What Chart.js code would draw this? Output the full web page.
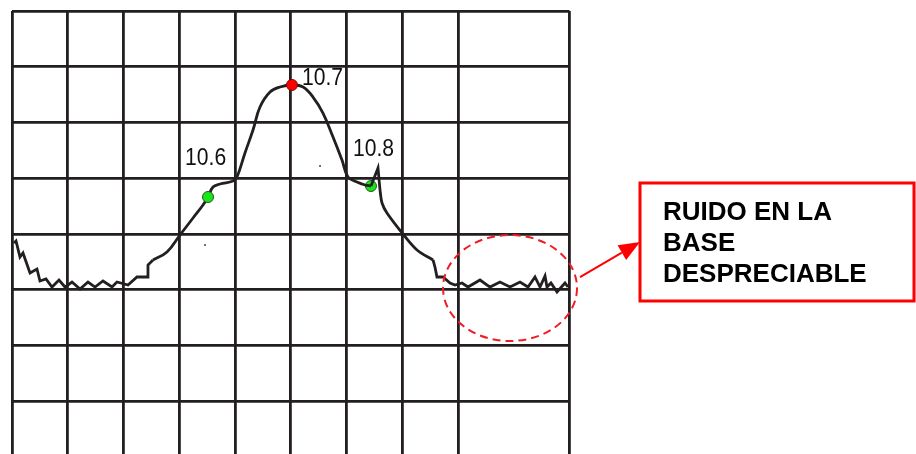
<!DOCTYPE html>
<html>
<head>
<meta charset="utf-8">
<script src="https://cdn.jsdelivr.net/npm/chart.js@4/dist/chart.umd.min.js"></script>
<style>
  html, body { margin: 0; padding: 0; background: #ffffff; overflow: hidden; }
  #wrap { width: 916px; height: 454px; }
</style>
</head>
<body>
<div id="wrap"><canvas id="chrom" width="916" height="454"></canvas></div>
<script>
// Chromatogram trace (time in grid divisions, signal in grid divisions)
const time = [
  0.036, 0.072, 0.143, 0.197, 0.323, 0.448, 0.502, 0.610, 0.717, 0.843,
  0.951, 1.076, 1.220, 1.363, 1.489, 1.632, 1.794, 1.883, 2.081, 2.242,
  2.422, 2.439, 2.529, 2.780, 3.013, 3.247, 3.426, 3.516, 3.605, 3.731,
  3.964, 4.036, 4.179, 4.323, 4.448, 4.628, 4.807, 5.022, 5.220, 5.399,
  5.578, 5.758, 5.919, 6.027, 6.188, 6.332, 6.439, 6.565, 6.601, 6.637,
  6.726, 7.013, 7.265, 7.552, 7.587, 7.623, 7.731, 7.857, 7.946, 8.072,
  8.179, 8.395, 8.574, 8.753, 8.933, 9.112, 9.256, 9.381, 9.471, 9.561,
  9.596, 9.668, 9.776, 9.919, 9.973
];
const signal = [
  3.839, 3.874, 3.587, 3.659, 3.300, 3.372, 3.157, 3.193, 3.049, 3.175,
  3.049, 3.139, 3.013, 3.139, 3.049, 3.157, 3.049, 3.139, 3.085, 3.229,
  3.229, 3.444, 3.534, 3.677, 3.982, 4.287, 4.520, 4.664, 4.843, 4.897,
  4.951, 5.022, 5.453, 5.865, 6.278, 6.547, 6.637, 6.673, 6.637, 6.457,
  6.170, 5.740, 5.327, 5.022, 4.933, 4.879, 4.861, 5.184, 4.789, 4.556,
  4.377, 4.000, 3.713, 3.534, 3.408, 3.229, 3.229, 3.121, 3.085, 3.121,
  3.049, 3.175, 3.049, 3.139, 3.049, 3.139, 3.049, 3.229, 3.049, 3.247,
  3.049, 3.121, 2.960, 3.121, 3.049
];

// Marked peaks and their retention labels
const peakTimes   = [3.516, 5.022, 6.439];
const peakHeights = [4.664, 6.673, 4.861];
const peakLabels  = ['10.6', '10.7', '10.8'];

// Two stray specks on the recorder paper
const speckTimes   = [3.462, 5.525];
const speckHeights = [3.803, 5.220];

// Grid divisions
const gridX = [0, 1, 2, 3, 4, 5, 6, 7, 8, 10];
const gridY = [1, 2, 3, 4, 5, 6, 7, 8];

// Callout
const noteLines = ['RUIDO EN LA', 'BASE', 'DESPRECIABLE'];
const noiseCentre = [8.933, 3.031];

const INK = '#231f20';

// The trace is drawn in pieces: smooth where the peak rises and falls,
// sharp where the baseline jitters.
const pts = time.map((t, i) => ({ x: t, y: signal[i] }));
const at = t => time.indexOf(t);
const pieces = [
  [0, at(2.529), 0],
  [at(2.529), at(6.439), 0.4],
  [at(6.439), at(6.601), 0],
  [at(6.601), at(7.552), 0.35],
  [at(7.552), time.length - 1, 0]
];
const traceSets = pieces.map(([a, b, tension]) => ({
  type: 'line',
  data: pts.slice(a, b + 1),
  borderColor: INK,
  borderWidth: 2.8,
  tension: tension,
  pointRadius: 0,
  fill: false,
  order: 1
}));

const markerColours = ['#19e619', '#ff0000', '#19e619'];
const markerEdges   = ['#1f5a1f', '#8a0000', '#1f5a1f'];
const markerSets = peakTimes.map((t, i) => ({
  type: 'line',
  showLine: false,
  data: [{ x: t, y: peakHeights[i] }],
  pointRadius: 5.5,
  pointBackgroundColor: markerColours[i],
  pointBorderColor: markerEdges[i],
  pointBorderWidth: 1,
  order: i === 2 ? 2 : 0
}));

const speckSet = {
  type: 'line',
  showLine: false,
  data: speckTimes.map((t, i) => ({ x: t, y: speckHeights[i] })),
  pointStyle: 'rect',
  pointRadius: 1.2,
  pointBackgroundColor: INK,
  pointBorderWidth: 0,
  order: 0
};

// Label placement relative to each marker (px): left edge, baseline
const labelOffsets = [[-23, -32], [10, 0], [-18, -30]];

const peakLabelPlugin = {
  id: 'peakLabels',
  afterDatasetsDraw(chart) {
    const { ctx, scales: { x, y } } = chart;
    ctx.save();
    ctx.fillStyle = '#111111';
    ctx.font = '24px "Liberation Sans", Arial, sans-serif';
    ctx.textBaseline = 'alphabetic';
    peakLabels.forEach((txt, i) => {
      const px = x.getPixelForValue(peakTimes[i]) + labelOffsets[i][0];
      const py = y.getPixelForValue(peakHeights[i]) + labelOffsets[i][1];
      ctx.save();
      ctx.translate(px, py);
      ctx.scale(0.88, 1);
      ctx.fillText(txt, 0, 0);
      ctx.restore();
    });
    ctx.restore();
  }
};

const calloutPlugin = {
  id: 'callout',
  afterDraw(chart) {
    const { ctx, scales: { x, y } } = chart;
    const cx = x.getPixelForValue(noiseCentre[0]);
    const cy = y.getPixelForValue(noiseCentre[1]);
    ctx.save();
    // dashed ring around the baseline noise
    ctx.strokeStyle = '#ee1c24';
    ctx.lineWidth = 2;
    ctx.setLineDash([8, 5]);
    ctx.beginPath();
    ctx.ellipse(cx, cy, 67, 53, 0, 0, Math.PI * 2);
    ctx.stroke();
    ctx.setLineDash([]);

    // box
    const bx = 640, by = 183, bw = 274, bh = 118;
    ctx.strokeStyle = '#ff0000';
    ctx.lineWidth = 3;
    ctx.strokeRect(bx, by, bw, bh);

    // arrow from the ring to the box
    const sx = cx + 70, sy = cy - 11;
    const tx = bx, ty = 242;
    const dx = tx - sx, dy = ty - sy, len = Math.hypot(dx, dy);
    const ux = dx / len, uy = dy / len;
    const head = 21, half = 8.5;
    const hx = tx - ux * head, hy = ty - uy * head;
    ctx.strokeStyle = '#ff0000';
    ctx.lineWidth = 2;
    ctx.beginPath();
    ctx.moveTo(sx, sy);
    ctx.lineTo(hx, hy);
    ctx.stroke();
    ctx.fillStyle = '#ff0000';
    ctx.beginPath();
    ctx.moveTo(tx, ty);
    ctx.lineTo(hx - uy * half, hy + ux * half);
    ctx.lineTo(hx + uy * half, hy - ux * half);
    ctx.closePath();
    ctx.fill();

    // note text
    ctx.fillStyle = '#000000';
    ctx.font = 'bold 26px "Liberation Sans", Arial, sans-serif';
    ctx.textBaseline = 'alphabetic';
    noteLines.forEach((line, i) => ctx.fillText(line, 663, 220 + i * 31));
    ctx.restore();
  }
};

new Chart(document.getElementById('chrom'), {
  data: { datasets: [...traceSets, ...markerSets, speckSet] },
  options: {
    responsive: false,
    animation: false,
    devicePixelRatio: 1,
    layout: { autoPadding: false, padding: { left: 12, top: 11, right: 346.5, bottom: 0 } },
    plugins: { legend: { display: false }, tooltip: { enabled: false } },
    scales: {
      x: {
        type: 'linear', min: 0, max: 10,
        afterBuildTicks: s => { s.ticks = gridX.map(v => ({ value: v })); },
        afterFit: s => { s.height = 0; },
        ticks: { display: false },
        grid: { color: INK, lineWidth: 2.8, drawTicks: false },
        border: { display: false }
      },
      y: {
        type: 'linear', min: 0.054, max: 8,
        afterBuildTicks: s => { s.ticks = gridY.map(v => ({ value: v })); },
        afterFit: s => { s.width = 0; },
        ticks: { display: false },
        grid: { color: INK, lineWidth: 2.8, drawTicks: false },
        border: { display: false }
      }
    }
  },
  plugins: [peakLabelPlugin, calloutPlugin]
});
</script>
</body>
</html>
